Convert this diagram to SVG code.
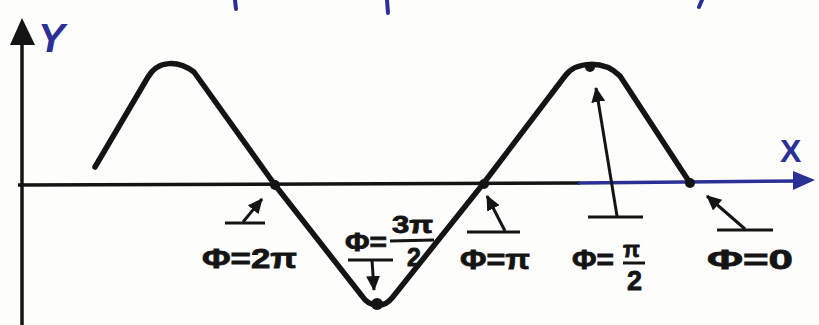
<svg xmlns="http://www.w3.org/2000/svg" width="819" height="325" viewBox="0 0 819 325">
<style>
.ink{stroke:#141414;fill:none;stroke-linecap:round;stroke-linejoin:round}
.lbl{font-family:"Liberation Sans",Arial,sans-serif;font-weight:bold;fill:#141414;stroke:#141414;stroke-width:0.8}
.blue{font-family:"Liberation Sans",Arial,sans-serif;font-weight:bold;fill:#2a3096}
.ptr{stroke:#141414;stroke-width:3;fill:none;marker-end:url(#ah)}
.bar{stroke:#141414;stroke-width:3}
</style>
<defs>
<marker id="ah" markerUnits="userSpaceOnUse" markerWidth="16" markerHeight="14" refX="14" refY="7" orient="auto">
<path d="M0,0 L15,7 L0,14 Z" fill="#141414"/>
</marker>
</defs>
<rect width="819" height="325" fill="#fdfdfb"/>
<g id="fragments" stroke="#2a3096" stroke-width="4" stroke-linecap="round">
<line x1="235" y1="0" x2="236" y2="9"/>
<line x1="387" y1="0" x2="388" y2="13"/>
<line x1="702" y1="0" x2="699" y2="7"/>
</g>
<g id="y-axis">
<line x1="22" y1="325" x2="22" y2="38" stroke="#141414" stroke-width="3.5"/>
<polygon points="22,18 10,45 35,45" fill="#141414"/>
<text class="blue" x="38" y="52" font-size="40" font-style="italic">Y</text>
</g>
<g id="x-axis">
<line x1="18" y1="185" x2="580" y2="183" stroke="#141414" stroke-width="3.5"/>
<line x1="578" y1="183" x2="800" y2="181" stroke="#2a3096" stroke-width="3.5"/>
<polygon points="815,180 793,171 793,190" fill="#2a3096"/>
<text class="blue" x="780" y="162" font-size="32">X</text>
</g>
<g id="curve">
<path class="ink" stroke-width="5.5" d="M95,167 L148,77 C158,60 178,60 194,72 L275,185 L362,296 C370,308 384,308 392,298 L483,184 L565,76 C576,61 604,60 620,76 L690,183"/>
<g fill="#141414">
<circle cx="275" cy="185" r="5"/>
<circle cx="377" cy="304" r="6"/>
<circle cx="484" cy="184" r="5"/>
<circle cx="590" cy="67" r="5"/>
<circle cx="690" cy="183" r="5"/>
</g>
</g>
<g id="connectors">
<line class="bar" x1="225" y1="223" x2="265" y2="223"/>
<line class="ptr" x1="243" y1="222" x2="262" y2="199"/>
<line class="bar" x1="348" y1="260" x2="393" y2="260"/>
<line class="ptr" x1="372" y1="260" x2="374" y2="290"/>
<line class="bar" x1="467" y1="232" x2="520" y2="232"/>
<line class="ptr" x1="505" y1="231" x2="487" y2="196"/>
<line class="bar" x1="588" y1="217" x2="643" y2="217"/>
<line class="ptr" x1="617" y1="216" x2="596" y2="88"/>
<line class="bar" x1="717" y1="230" x2="773" y2="230"/>
<line class="ptr" x1="745" y1="229" x2="707" y2="196"/>
</g>
<g id="label-2pi">
<text class="lbl" x="202" y="268" font-size="28" textLength="95" lengthAdjust="spacingAndGlyphs">Φ=2π</text>
</g>
<g id="label-3pi2">
<text class="lbl" x="345" y="251" font-size="26" textLength="42" lengthAdjust="spacingAndGlyphs">Φ=</text>
<text class="lbl" x="392" y="233" font-size="23" textLength="41" lengthAdjust="spacingAndGlyphs">3π</text>
<line class="bar" x1="390" y1="241" x2="434" y2="240"/>
<text class="lbl" x="407" y="266" font-size="25">2</text>
</g>
<g id="label-pi">
<text class="lbl" x="460" y="269" font-size="28" textLength="70" lengthAdjust="spacingAndGlyphs">Φ=π</text>
</g>
<g id="label-pi2">
<text class="lbl" x="572" y="269" font-size="28" textLength="42" lengthAdjust="spacingAndGlyphs">Φ=</text>
<text class="lbl" x="623" y="257" font-size="22">π</text>
<line class="bar" x1="623" y1="263" x2="645" y2="263"/>
<text class="lbl" x="627" y="290" font-size="27">2</text>
</g>
<g id="label-0">
<text class="lbl" x="707" y="269" font-size="28" textLength="86" lengthAdjust="spacingAndGlyphs">Φ=0</text>
</g>
</svg>
